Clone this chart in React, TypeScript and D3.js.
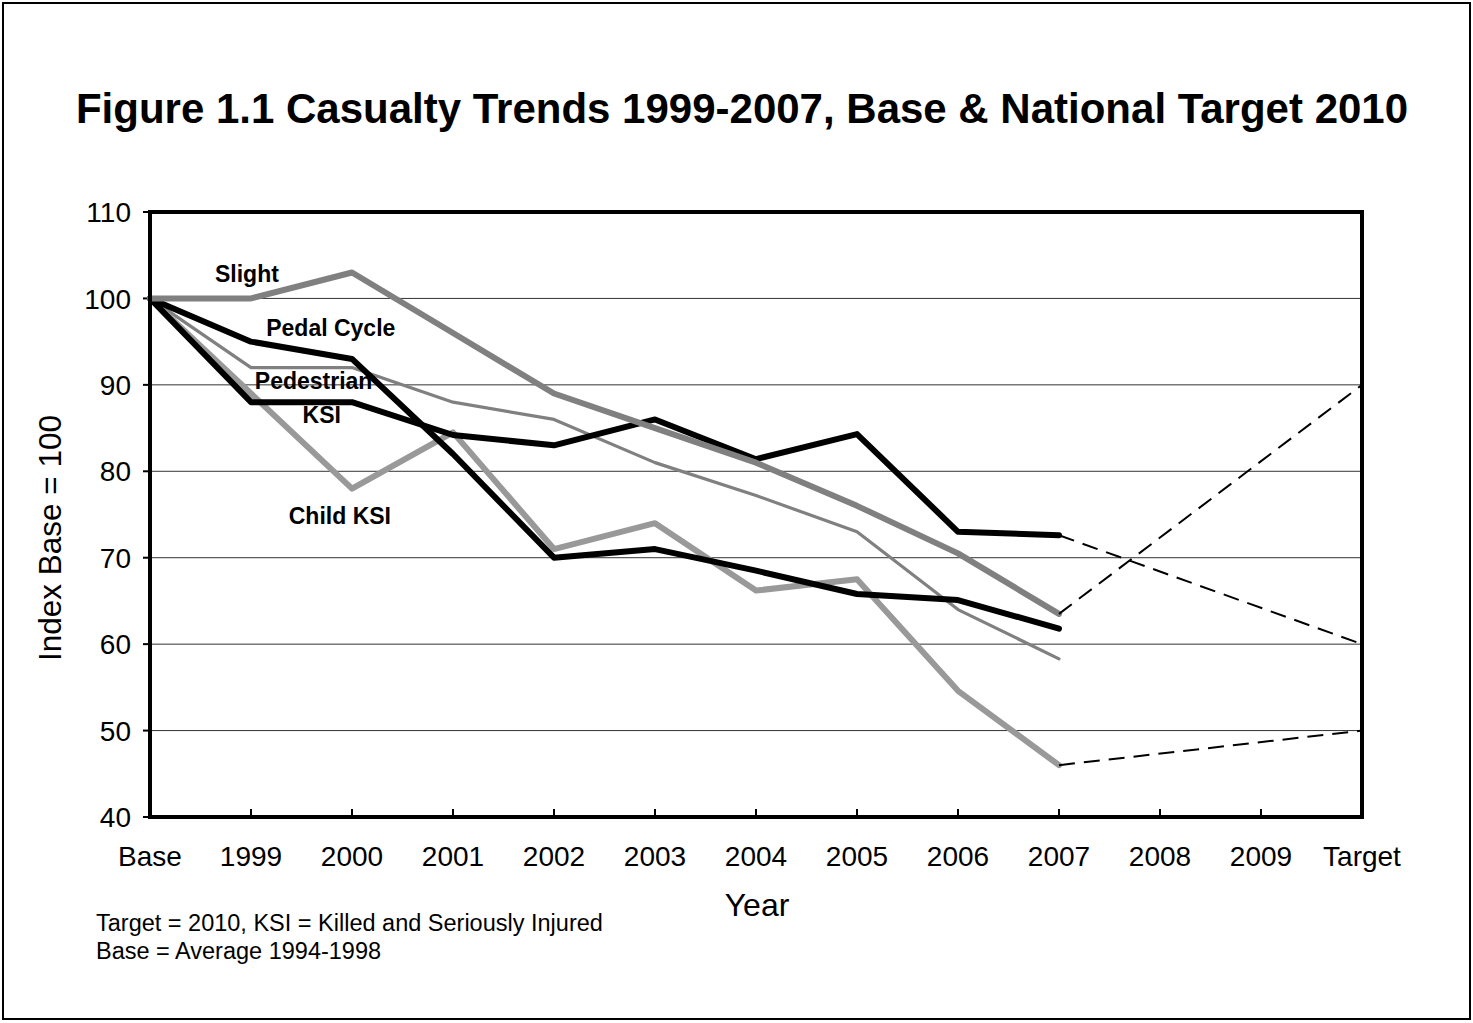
import React from "react";
import * as d3 from "d3";

const categories = ["Base", "1999", "2000", "2001", "2002", "2003", "2004", "2005", "2006", "2007", "2008", "2009", "Target"];
const yTicks = [40, 50, 60, 70, 80, 90, 100, 110];

// Series values Base..2007
const slight = [100, 100, 103, 96, 89, 85, 81, 76, 70.5, 63.5];
const pedalCycle = [100, 95, 93, 82, 70, 71, 68.5, 65.8, 65.1, 61.8];
const pedestrian = [100, 92, 92, 88, 86, 81, 77.2, 73, 64, 58.3];
const ksi = [100, 88, 88, 84.2, 83, 86, 81.4, 84.3, 73, 72.6];
const childKsi = [100, 89, 78, 84.5, 71, 74, 66.2, 67.5, 54.6, 46];

// Targets (2007 -> Target)
const slightTarget = 90;
const ksiTarget = 60;
const childKsiTarget = 50;

// Line labels: [text, category position, value]
const labelTexts = ["Slight", "Pedal Cycle", "Pedestrian", "KSI", "Child KSI"];
const labelPos = [0.96, 1.79, 1.62, 1.70, 1.88];
const labelVal = [101.9, 95.6, 89.5, 85.6, 73.9];

const W = 1473;
const H = 1023;
const FONT = "'Liberation Sans', Arial, Helvetica, sans-serif";

export default function App() {
  const x = d3.scaleLinear().domain([0, categories.length - 1]).range([150, 1362]);
  const y = d3.scaleLinear().domain([40, 110]).range([817, 212]);
  const line = d3
    .line<number>()
    .x((_, i) => x(i))
    .y((d) => y(d));

  const idx2007 = categories.indexOf("2007");
  const idxT = categories.indexOf("Target");
  const dashed = (from: number, to: number) =>
    `M${x(idx2007)},${y(from)}L${x(idxT)},${y(to)}`;

  const series = [
    { data: pedestrian, color: "#808080", w: 3.2 },
    { data: childKsi, color: "#999999", w: 6 },
    { data: ksi, color: "#000000", w: 6 },
    { data: pedalCycle, color: "#000000", w: 6 },
    { data: slight, color: "#808080", w: 6 },
  ];

  const [x0, x1] = x.range();
  const [yb, yt] = y.range();

  return (
    <svg
      width={W}
      height={H}
      style={{ position: "absolute", left: 0, top: 0, display: "block", background: "#fff" }}
      fontFamily={FONT}
    >
      <rect x={3} y={3} width={1467} height={1016} fill="#fff" stroke="#000" strokeWidth={2} />
      <text x={742} y={123} textAnchor="middle" fontSize={42} fontWeight="bold" fill="#000">
        Figure 1.1 Casualty Trends 1999-2007, Base &amp; National Target 2010
      </text>

      {/* gridlines */}
      {yTicks
        .filter((t) => t !== 40 && t !== 110)
        .map((t) => (
          <line key={t} x1={x0} x2={x1} y1={y(t)} y2={y(t)} stroke="#333" strokeWidth={1} />
        ))}

      {/* y ticks and labels */}
      {yTicks.map((t) => (
        <g key={t}>
          <line x1={x0 - 7} x2={x0} y1={y(t)} y2={y(t)} stroke="#000" strokeWidth={2} />
          <text x={131} y={y(t)} dy="0.36em" textAnchor="end" fontSize={28} fill="#000">
            {t}
          </text>
        </g>
      ))}

      {/* x ticks and labels */}
      {categories.map((c, i) => (
        <g key={c}>
          {i > 0 && i < categories.length - 1 && (
            <line x1={x(i)} x2={x(i)} y1={yb} y2={yb - 8} stroke="#000" strokeWidth={2} />
          )}
          <text x={x(i)} y={866} textAnchor="middle" fontSize={28} fill="#000">
            {c}
          </text>
        </g>
      ))}

      {/* series */}
      {series.map((s, k) => (
        <path
          key={k}
          d={line(s.data) || ""}
          fill="none"
          stroke={s.color}
          strokeWidth={s.w}
          strokeLinejoin="round"
          strokeLinecap="round"
        />
      ))}

      {/* dashed target lines */}
      {[
        [slight[idx2007], slightTarget],
        [ksi[idx2007], ksiTarget],
        [childKsi[idx2007], childKsiTarget],
      ].map(([a, b], k) => (
        <path key={k} d={dashed(a, b)} fill="none" stroke="#000" strokeWidth={2} strokeDasharray="16,9" />
      ))}

      {/* frame */}
      <rect x={x0} y={yt} width={x1 - x0} height={yb - yt} fill="none" stroke="#000" strokeWidth={4} />

      {/* series labels */}
      {labelTexts.map((t, i) => (
        <text
          key={t}
          x={x(labelPos[i])}
          y={y(labelVal[i])}
          textAnchor="middle"
          fontSize={23}
          fontWeight="bold"
          fill="#000"
        >
          {t}
        </text>
      ))}

      {/* axis titles */}
      <text x={757} y={916} textAnchor="middle" fontSize={32} fill="#000">
        Year
      </text>
      <text
        transform={`translate(61,538) rotate(-90)`}
        textAnchor="middle"
        fontSize={31.5}
        fill="#000"
      >
        Index Base = 100
      </text>

      {/* notes */}
      <text x={96} y={931} fontSize={23.5} fill="#000">
        Target = 2010, KSI = Killed and Seriously Injured
      </text>
      <text x={96} y={959} fontSize={23.5} fill="#000">
        Base = Average 1994-1998
      </text>
    </svg>
  );
}
